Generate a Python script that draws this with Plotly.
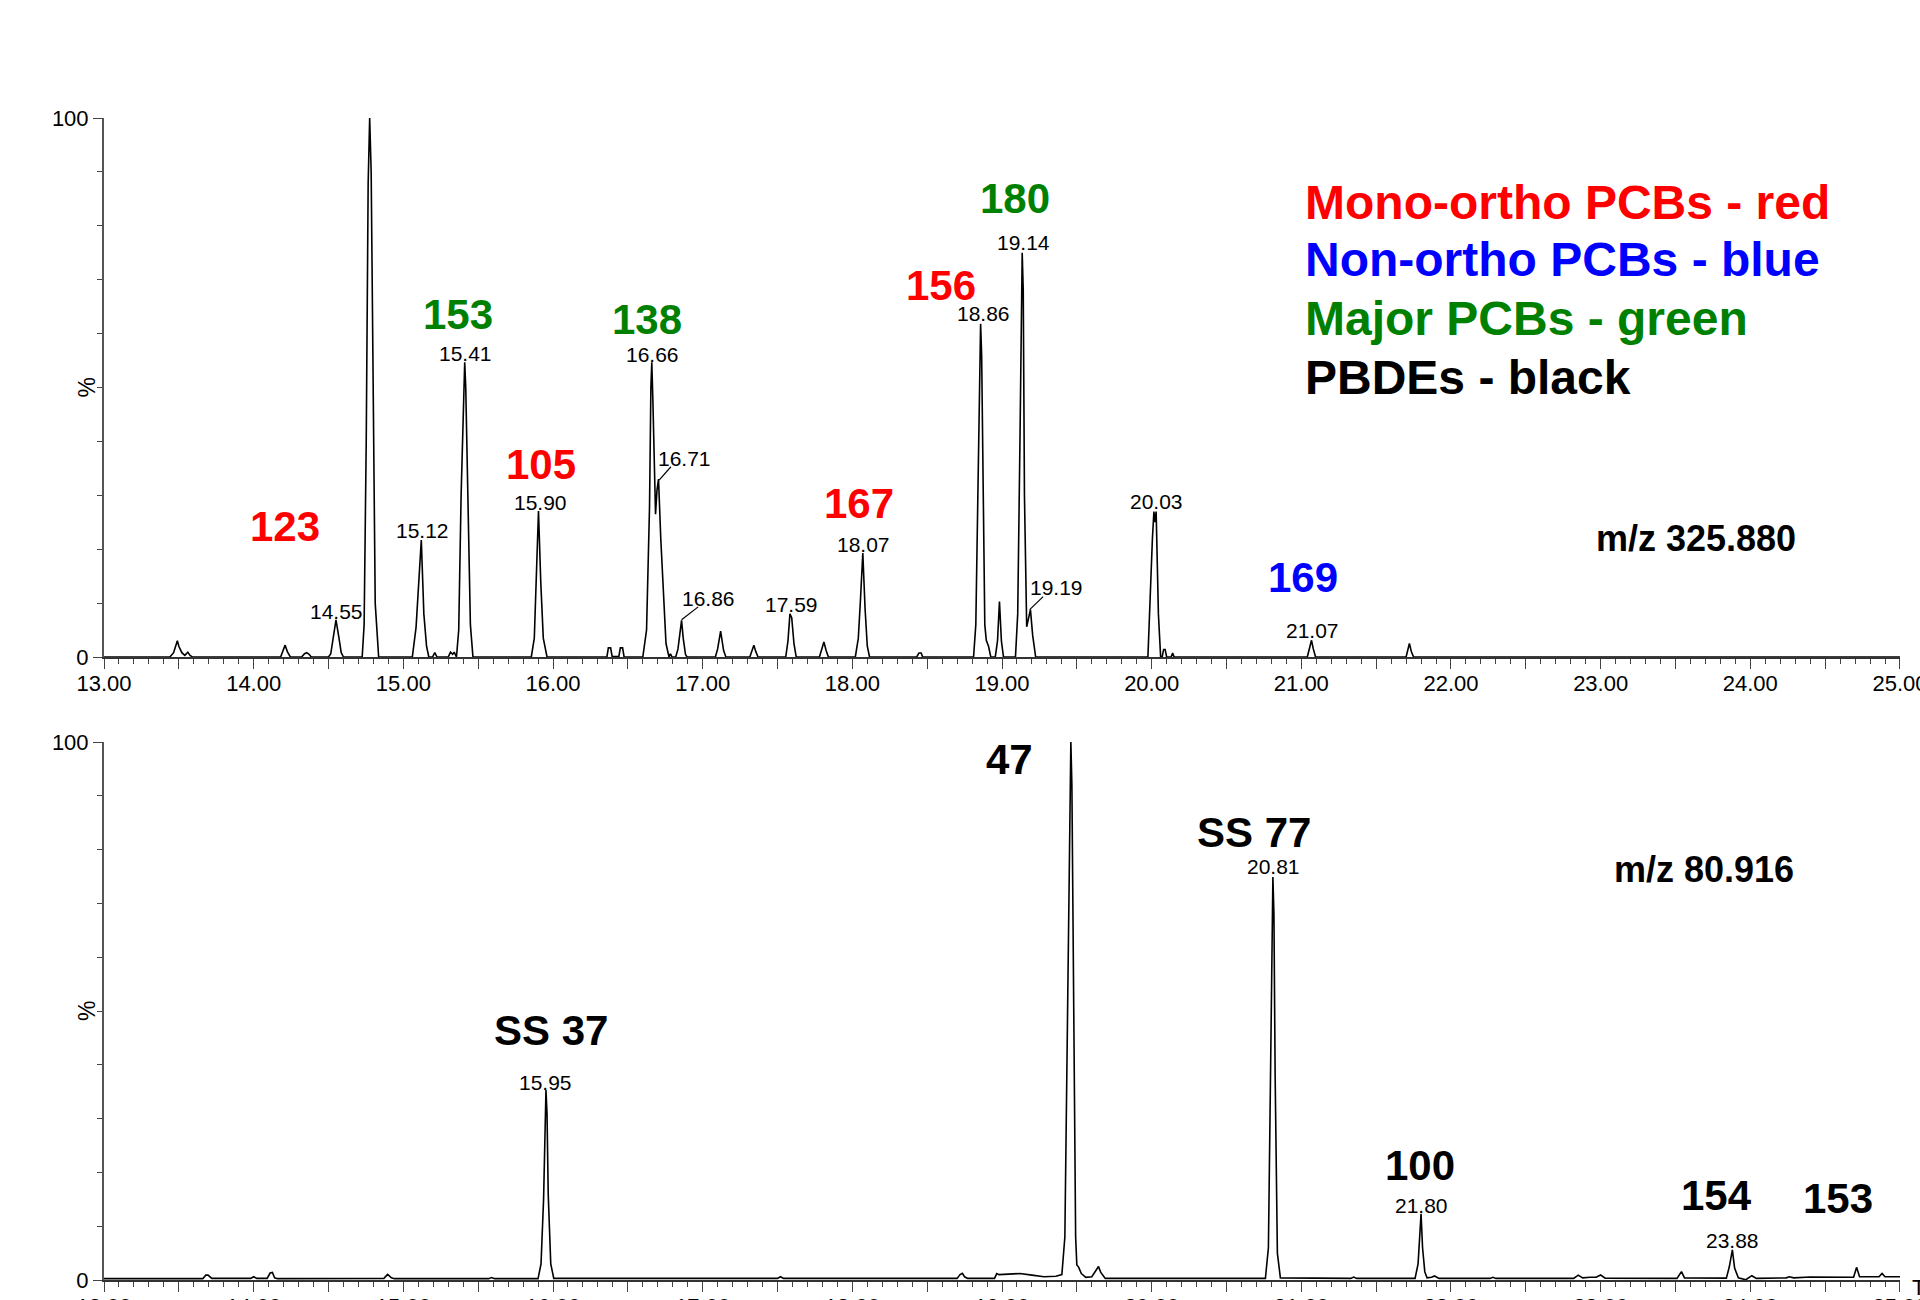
import plotly.graph_objects as go

FONT = "Liberation Sans, Arial, sans-serif"

# ---------------- data: m/z 325.880 chromatogram (time min, relative %) ----------------
top_points = [
    (13.00, 0), (13.44, 0), (13.465, 0.8), (13.48, 2.0), (13.49, 3.0), (13.50, 2.0), (13.52, 0.8),
    (13.54, 0.3), (13.56, 0.9), (13.575, 0.3), (13.59, 0),
    (14.18, 0), (14.195, 1.0), (14.21, 2.2), (14.225, 1.0), (14.245, 0),
    (14.32, 0), (14.34, 0.6), (14.355, 0.8), (14.37, 0.5), (14.385, 0),
    (14.50, 0), (14.515, 0.6), (14.53, 3.0), (14.55, 6.9), (14.57, 3.5), (14.585, 0.8), (14.60, 0),
    (14.725, 0), (14.738, 6), (14.752, 40), (14.765, 88), (14.775, 100), (14.785, 90), (14.798, 48),
    (14.812, 10), (14.835, 0),
    (15.06, 0), (15.085, 5.5), (15.10, 12), (15.12, 21.7), (15.137, 8), (15.155, 2), (15.17, 0),
    (15.195, 0), (15.21, 0.8), (15.225, 0),
    (15.30, 0), (15.315, 0.9), (15.33, 0.5), (15.34, 0.9), (15.355, 0),
    (15.37, 5), (15.386, 30), (15.403, 50), (15.41, 54.7), (15.417, 50), (15.432, 30), (15.448, 6), (15.465, 0),
    (15.855, 0), (15.875, 3.5), (15.89, 15), (15.903, 27.1), (15.918, 14), (15.935, 3.5), (15.96, 0),
    (16.36, 0), (16.37, 1.7), (16.385, 1.7), (16.395, 0.1), (16.44, 0.1), (16.45, 1.7), (16.465, 1.7), (16.475, 0),
    (16.60, 0), (16.625, 5), (16.645, 28), (16.654, 50), (16.66, 54.7), (16.667, 48), (16.675, 35),
    (16.685, 26.5), (16.695, 31), (16.705, 33), (16.72, 22), (16.735, 12.4), (16.755, 2.5), (16.775, 0),
    (16.785, 0.6), (16.795, 0),
    (16.82, 0), (16.835, 1.5), (16.848, 4.5), (16.859, 6.8), (16.87, 3.5), (16.885, 0.5), (16.895, 0),
    (17.085, 0), (17.10, 1.5), (17.12, 4.8), (17.14, 1.2), (17.155, 0),
    (17.315, 0), (17.33, 1.3), (17.342, 2.2), (17.355, 1.0), (17.37, 0),
    (17.555, 0), (17.57, 3), (17.583, 8.0), (17.595, 7.3), (17.61, 2.5), (17.625, 0),
    (17.78, 0), (17.795, 1.5), (17.81, 2.8), (17.825, 1.2), (17.84, 0),
    (18.02, 0), (18.04, 3.5), (18.055, 11), (18.07, 19.3), (18.085, 9), (18.10, 2), (18.115, 0),
    (18.43, 0), (18.445, 0.75), (18.46, 0.75), (18.47, 0),
    (18.81, 0), (18.825, 6), (18.84, 32), (18.851, 57), (18.857, 61.8), (18.864, 56), (18.873, 30),
    (18.885, 6), (18.895, 3.1), (18.91, 2), (18.925, 0),
    (18.955, 0), (18.97, 3), (18.983, 10.3), (18.996, 3), (19.01, 0),
    (19.09, 0), (19.105, 8), (19.12, 40), (19.129, 70), (19.135, 75), (19.142, 68), (19.15, 30),
    (19.165, 5.6), (19.178, 7.5), (19.19, 8.8), (19.205, 4), (19.225, 0),
    (19.975, 0), (19.99, 12.7), (20.005, 22), (20.015, 27), (20.022, 25), (20.03, 27), (20.045, 8), (20.06, 0),
    (20.07, 0), (20.08, 1.4), (20.09, 1.4), (20.10, 0), (20.13, 0), (20.14, 0.75), (20.15, 0),
    (21.04, 0), (21.055, 1.5), (21.068, 3.1), (21.08, 1.5), (21.095, 0),
    (21.70, 0), (21.712, 1.3), (21.722, 2.5), (21.735, 1.0), (21.75, 0),
    (25.00, 0),
]

# ---------------- data: m/z 80.916 chromatogram ----------------
bottom_points = [
    (13.00, 0.25), (13.66, 0.25), (13.68, 0.9), (13.695, 0.9), (13.72, 0.3), (13.98, 0.3), (14.00, 0.6),
    (14.02, 0.3), (14.09, 0.3), (14.11, 1.3), (14.125, 1.4), (14.14, 0.4), (14.16, 0.25),
    (14.87, 0.3), (14.895, 1.05), (14.92, 0.4), (14.94, 0.25),
    (15.57, 0.25), (15.59, 0.45), (15.61, 0.25),
    (15.90, 0.25), (15.92, 3), (15.937, 15), (15.947, 32), (15.953, 35.3), (15.96, 31), (15.968, 16),
    (15.985, 3), (16.005, 0.3),
    (17.50, 0.3), (17.52, 0.6), (17.54, 0.3),
    (18.70, 0.3), (18.72, 1.0), (18.735, 1.24), (18.75, 0.6), (18.77, 0.3),
    (18.95, 0.3), (18.965, 1.2), (18.98, 1.0), (19.05, 1.1), (19.12, 1.2), (19.20, 0.9), (19.28, 0.6), (19.36, 0.7),
    (19.40, 1.0), (19.42, 8), (19.44, 55), (19.453, 93), (19.46, 100), (19.467, 92), (19.477, 55),
    (19.492, 8), (19.50, 2.8), (19.512, 2.4),
    (19.53, 1.2), (19.56, 0.5), (19.60, 0.6), (19.63, 1.8), (19.645, 2.5), (19.66, 1.4), (19.69, 0.3),
    (20.76, 0.3), (20.78, 6), (20.795, 40), (20.804, 70), (20.81, 74.9), (20.817, 68), (20.825, 38),
    (20.84, 5), (20.86, 0.4),
    (21.33, 0.3), (21.35, 0.55), (21.37, 0.3),
    (21.76, 0.3), (21.78, 3), (21.79, 7), (21.80, 12.3), (21.81, 6), (21.825, 1.5), (21.84, 0.4),
    (21.87, 0.5), (21.89, 0.75), (21.92, 0.3),
    (22.26, 0.3), (22.28, 0.5), (22.30, 0.3),
    (22.82, 0.3), (22.85, 0.9), (22.88, 0.4), (22.93, 0.5), (22.97, 0.5), (23.00, 0.93), (23.03, 0.35),
    (23.51, 0.3), (23.54, 1.55), (23.56, 0.4),
    (23.84, 0.35), (23.86, 2.5), (23.88, 5.6), (23.895, 2.2), (23.92, 0.4), (23.97, 0.05), (24.01, 0.8), (24.04, 0.3),
    (24.24, 0.4), (24.26, 0.6), (24.29, 0.4), (24.40, 0.55), (24.69, 0.5), (24.71, 2.35), (24.73, 0.6),
    (24.86, 0.6), (24.88, 1.2), (24.90, 0.6), (25.00, 0.6),
]

top_time = [p[0] for p in top_points]
top_signal = [p[1] for p in top_points]
bottom_time = [p[0] for p in bottom_points]
bottom_signal = [p[1] for p in bottom_points]

# retention-time labels (text, x, y of label centre)
top_rt_text = ["14.55", "14.78", "15.12", "15.41", "15.90", "16.66", "16.71", "16.86", "17.59",
               "18.07", "18.86", "19.14", "19.19", "20.03", "21.07"]
top_rt_x = [14.556, 14.784, 15.128, 15.416, 15.915, 16.665, 16.881, 17.040, 17.596,
            18.077, 18.874, 19.144, 19.366, 20.032, 21.074]
top_rt_y = [8.5, 101.7, 23.4, 56.3, 28.6, 56.2, 36.9, 10.9, 9.8,
            20.9, 63.7, 76.9, 12.9, 28.8, 4.9]
bottom_rt_text = ["15.95", "19.46", "20.81", "21.80", "23.88"]
bottom_rt_x = [15.953, 19.462, 20.812, 21.802, 23.880]
bottom_rt_y = [36.7, 101.8, 76.8, 13.9, 7.3]

# leader lines (label -> peak) in the top panel
leader_x0 = [16.788, 16.970, 19.275]
leader_y0 = [35.3, 9.3, 11.2]
leader_x1 = [16.709, 16.859, 19.185]
leader_y1 = [32.8, 6.9, 8.8]

# congener labels
top_cong_text = ["118", "123", "153", "105", "138", "167", "156", "180", "169"]
top_cong_x = [14.785, 14.211, 15.363, 15.918, 16.625, 18.047, 18.595, 19.086, 21.009]
top_cong_y = [110.8, 24.3, 63.5, 35.8, 62.7, 28.4, 69.0, 85.1, 14.8]
top_cong_color = ["#ff0000", "#ff0000", "#008000", "#ff0000", "#008000", "#ff0000", "#ff0000", "#008000", "#0000ff"]
bottom_cong_text = ["SS 37", "47", "SS 77", "100", "154", "153"]
bottom_cong_x = [15.986, 19.052, 20.682, 21.794, 23.777, 24.583]
bottom_cong_y = [46.3, 96.8, 83.1, 21.2, 15.8, 15.1]

legend_text = ["Mono-ortho PCBs - red", "Non-ortho PCBs - blue", "Major PCBs - green", "PBDEs - black"]
legend_color = ["#ff0000", "#0000ff", "#008000", "#000000"]
legend_y = [84.4, 73.7, 62.8, 51.9]
legend_x = 21.013

mz_text = ["m/z 325.880", "m/z 80.916"]
mz_x = [23.635, 23.691]
mz_y = [21.9, 76.3]

x_tick_vals = [13.0, 13.5, 14.0, 14.5, 15.0, 15.5, 16.0, 16.5, 17.0, 17.5, 18.0, 18.5, 19.0,
               19.5, 20.0, 20.5, 21.0, 21.5, 22.0, 22.5, 23.0, 23.5, 24.0, 24.5, 25.0]
x_tick_text = ["13.00", "", "14.00", "", "15.00", "", "16.00", "", "17.00", "", "18.00", "", "19.00",
               "", "20.00", "", "21.00", "", "22.00", "", "23.00", "", "24.00", "", "25.00"]
y_tick_vals = [0, 100]
y_tick_text = ["0", "100"]

# ---------------- figure ----------------
W, H = 1920, 1300
fig = go.Figure()
fig.add_trace(go.Scatter(x=top_time, y=top_signal, mode="lines", line=dict(color="black", width=1.6),
                         xaxis="x", yaxis="y", showlegend=False, hoverinfo="skip"))
fig.add_trace(go.Scatter(x=bottom_time, y=bottom_signal, mode="lines", line=dict(color="black", width=1.6),
                         xaxis="x2", yaxis="y2", showlegend=False, hoverinfo="skip"))

xdom = [104 / W, 1900 / W]
top_dom = [1 - 657 / H, 1 - 118 / H]
bot_dom = [1 - 1280 / H, 1 - 742 / H]

def xaxis_cfg(anchor):
    return dict(domain=xdom, range=[12.9999, 25.0001], anchor=anchor, automargin=False,
                showline=True, linecolor="#333", linewidth=1.5, ticklabeloverflow="allow",
                ticklabelstandoff=-4,
                ticks="outside", tickvals=x_tick_vals, ticktext=x_tick_text, ticklen=10, tickwidth=1.3,
                tickcolor="#444", tickfont=dict(family=FONT, size=22, color="black"),
                minor=dict(tickmode="linear", tick0=13, dtick=0.1, ticks="outside", ticklen=5,
                           tickwidth=1.2, tickcolor="#444"),
                showgrid=False, zeroline=False, fixedrange=True)

def yaxis_cfg(dom, anchor):
    return dict(domain=dom, range=[0, 100], anchor=anchor, automargin=False,
                showline=True, linecolor="#555", linewidth=2, ticklabeloverflow="allow",
                ticks="outside", tickvals=y_tick_vals, ticktext=y_tick_text, ticklen=9, tickwidth=1.3,
                tickcolor="#444", tickfont=dict(family=FONT, size=22, color="black"),
                minor=dict(tickmode="linear", tick0=0, dtick=10, ticks="outside", ticklen=5,
                           tickwidth=1.2, tickcolor="#444"),
                showgrid=False, zeroline=False, fixedrange=True)

annotations = []
shapes = []

def add_text(text, x, y, xref, yref, size, color="black", bold=False, xanchor="center", angle=0):
    annotations.append(dict(text=text, x=x, y=y, xref=xref, yref=yref, showarrow=False,
                            xanchor=xanchor, yanchor="middle", textangle=angle,
                            font=dict(family=FONT, size=size, color=color,
                                      weight="bold" if bold else "normal")))

for t, x, y in zip(top_rt_text, top_rt_x, top_rt_y):
    add_text(t, x, y, "x", "y", 21)
for t, x, y in zip(bottom_rt_text, bottom_rt_x, bottom_rt_y):
    add_text(t, x, y, "x2", "y2", 21)
for t, x, y, c in zip(top_cong_text, top_cong_x, top_cong_y, top_cong_color):
    add_text(t, x, y, "x", "y", 42, c, True)
for t, x, y in zip(bottom_cong_text, bottom_cong_x, bottom_cong_y):
    add_text(t, x, y, "x2", "y2", 42, "black", True)
for t, c, y in zip(legend_text, legend_color, legend_y):
    add_text(t, legend_x, y, "x", "y", 48, c, True, xanchor="left")
add_text(mz_text[0], mz_x[0], mz_y[0], "x", "y", 36, "black", True)
add_text(mz_text[1], mz_x[1], mz_y[1], "x2", "y2", 36, "black", True)
add_text("%", 87 / W, 50, "paper", "y", 23, angle=-90)
add_text("%", 87 / W, 50, "paper", "y2", 23, angle=-90)
add_text("Time", 1910 / W, 1 - 1287 / H, "paper", "paper", 22, xanchor="left")

for x0, y0, x1, y1 in zip(leader_x0, leader_y0, leader_x1, leader_y1):
    shapes.append(dict(type="line", xref="x", yref="y", x0=x0, y0=y0, x1=x1, y1=y1,
                       line=dict(color="black", width=1.2)))

fig.update_layout(
    width=W, height=H, margin=dict(l=0, r=0, t=0, b=0, autoexpand=False),
    paper_bgcolor="white", plot_bgcolor="white", showlegend=False,
    xaxis=xaxis_cfg("y"), yaxis=yaxis_cfg(top_dom, "x"),
    xaxis2=xaxis_cfg("y2"), yaxis2=yaxis_cfg(bot_dom, "x2"),
    annotations=annotations, shapes=shapes,
    font=dict(family=FONT, color="black"),
)

fig.write_html("out.html", config={"displayModeBar": False},
               post_script="document.body.style.margin='0';document.body.style.overflow='hidden';")
